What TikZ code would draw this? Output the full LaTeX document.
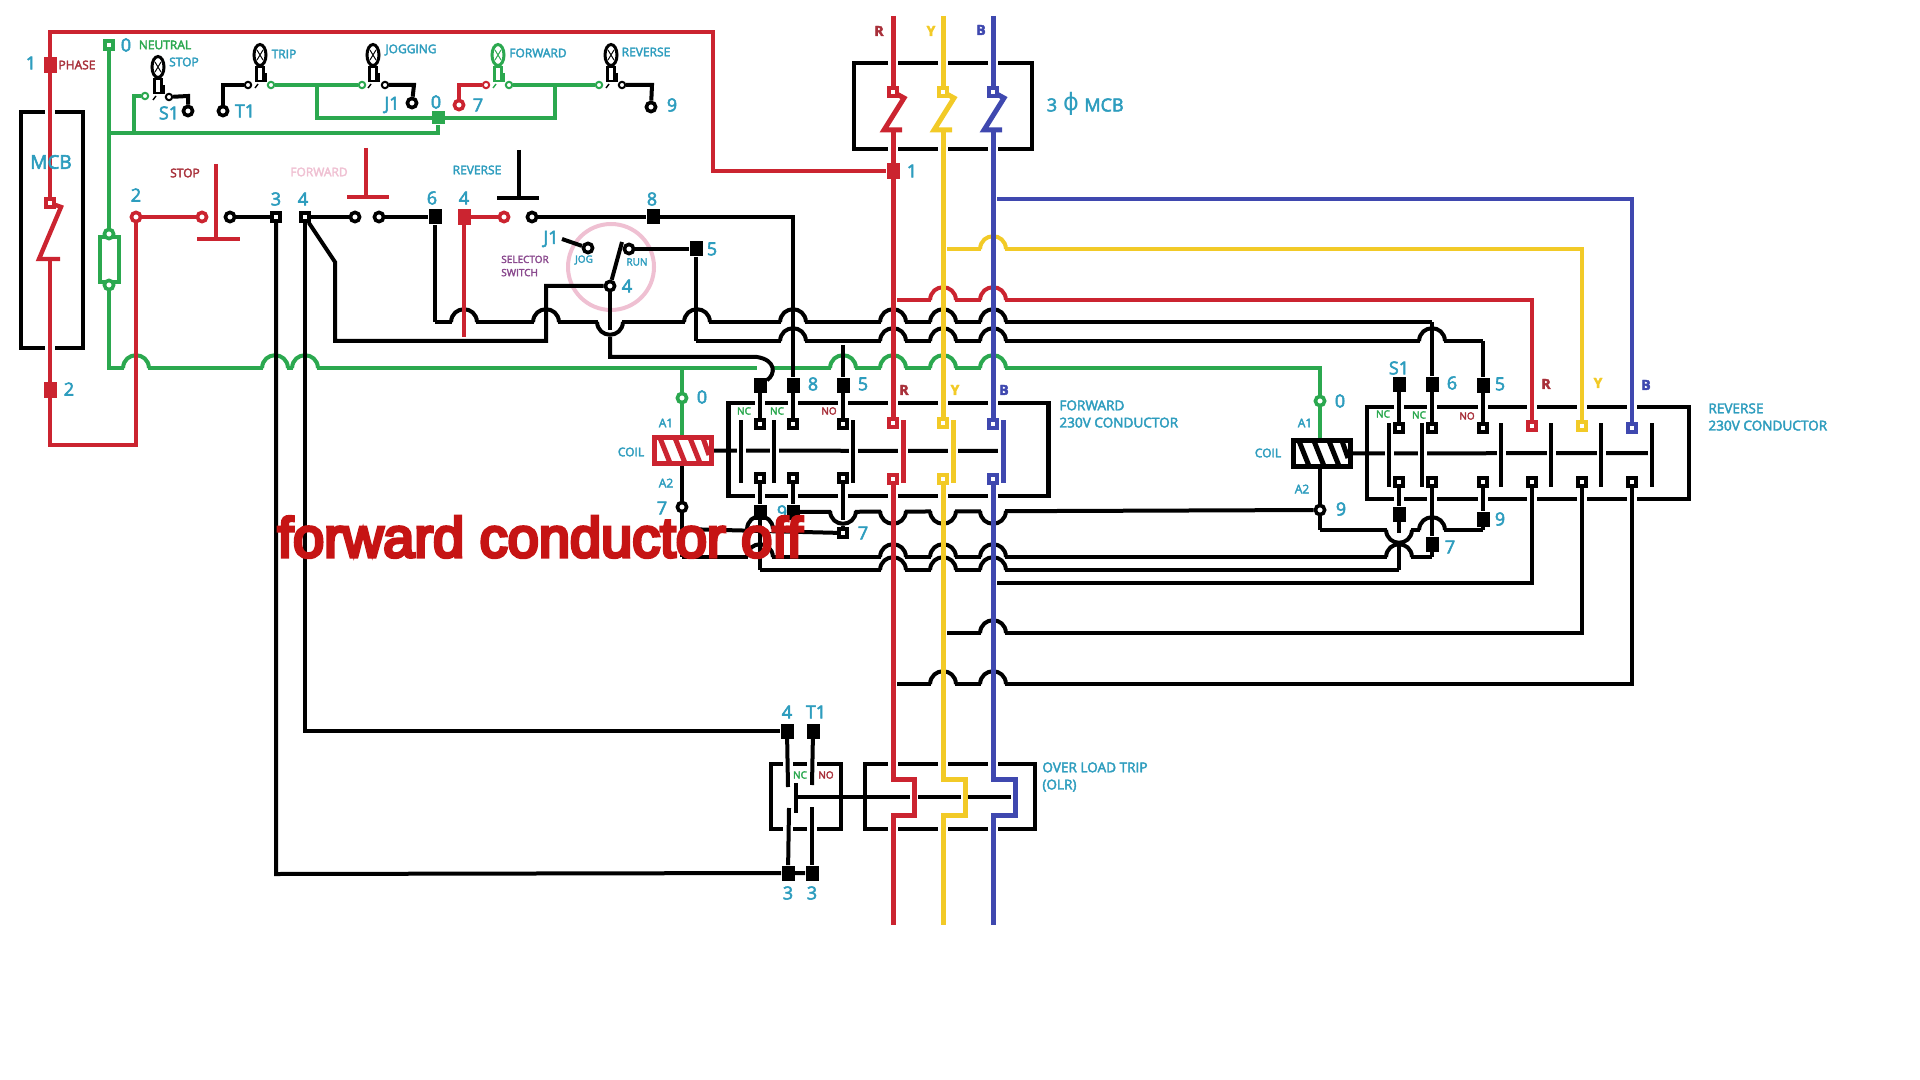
\documentclass[tikz,border=0pt]{standalone}
\usepackage{fontspec}
\setmainfont{Open Sans}[FakeBold=3]
\newfontface\noticefont{Liberation Sans}[FakeBold=6]
\newfontface\phifont{DejaVu Sans}
\usetikzlibrary{backgrounds,shapes.geometric}

\definecolor{wred}{HTML}{CB2430}
\definecolor{wgreen}{HTML}{2BA84F}
\definecolor{wyellow}{HTML}{F2CA27}
\definecolor{wblue}{HTML}{3F48AF}
\definecolor{lteal}{HTML}{2E9DBE}
\definecolor{ldred}{HTML}{A8303A}
\definecolor{lpink}{HTML}{EFC0D2}
\definecolor{lpurple}{HTML}{8A4A8E}
\definecolor{lnotice}{HTML}{C61414}

% one up or down hop of a wire over another one
\newcommand{\hopup}[3]{
  \fill[white] (#2-12,#3-3) rectangle (#2+12,#3+3);
  \draw[wire,#1] (#2-13,#3) .. controls (#2-12,#3-17) and (#2+12,#3-17) .. (#2+13,#3);
}
\newcommand{\hopdown}[3]{
  \fill[white] (#2-12,#3-3) rectangle (#2+12,#3+3);
  \draw[wire,#1] (#2-13,#3) .. controls (#2-12,#3+17) and (#2+12,#3+17) .. (#2+13,#3);
}
% white gap where a wire runs through a box outline
\newcommand{\boxgap}[2]{
  \fill[white] (#1-5,#2-4) rectangle (#1+5,#2+4);
}
% indicator lamp of the control panel
\newcommand{\paneltlamp}[4]{
  \node[bulb,draw=#4] (#1b) at (#2,#3) {};
  \node[stem,draw=#4] (#1s) at (#2,#3+19) {};
  \draw[line width=.5pt,#4] (#2-3,#3-5) -- (#2+3,#3+5) (#2+3,#3-5) -- (#2-3,#3+5);
  \draw[line width=.7pt,#4] (#2+6,#3+18) -- (#2+6,#3+27);
  \draw[line width=.7pt,#4] (#2-2,#3+29) -- (#2-5,#3+33);
}
% breaker pole of the 3 phase MCB
\newcommand{\breakerpole}[2]{
  \draw[bus,#1] (#2,92) -- (#2+11,98) -- (#2-9,130) -- (#2+9,130);
}

\begin{document}
\begin{tikzpicture}[x=0.5pt,y=-0.5pt,
    wire/.style={line width=2pt},
    redwire/.style={line width=2.2pt,color=wred},
    greenwire/.style={line width=2.2pt,color=wgreen},
    bus/.style={line width=2.5pt},
    boxnode/.style={rectangle,draw=black,line width=2.4pt,inner sep=0},
    ring/.style={circle,draw=black,fill=white,line width=1.8pt,minimum size=4.6pt,inner sep=0},
    smallring/.style={circle,draw=black,fill=white,line width=1pt,minimum size=3.2pt,inner sep=0},
    blacksq/.style={rectangle,fill=black,minimum width=6.5pt,minimum height=7.5pt,inner sep=0},
    redsq/.style={rectangle,fill=wred,minimum width=6.5pt,minimum height=8pt,inner sep=0},
    term/.style={rectangle,draw=black,fill=white,line width=2pt,minimum size=3.6pt,inner sep=0},
    bulb/.style={ellipse,fill=white,line width=1.5pt,minimum width=6pt,minimum height=10.5pt,inner sep=0},
    stem/.style={rectangle,fill=white,line width=1.3pt,minimum width=3.6pt,minimum height=7pt,inner sep=0},
    lbl/.style={inner sep=0,text=lteal,font=\fontsize{6}{7.2}\selectfont},
    longlbl/.style={inner sep=0,text=lteal,anchor=west,align=left,font=\fontsize{6.8}{8.6}\selectfont},
    num/.style={inner sep=0,text=lteal,font=\fontsize{9}{10}\selectfont},
    tag/.style={inner sep=0,font=\fontsize{6}{7}\selectfont},
    small/.style={inner sep=0,font=\fontsize{5}{6}\selectfont},
    phase/.style={inner sep=0,font=\fontsize{7}{8}\selectfont\bfseries}]

  \useasboundingbox (0,0) rectangle (1920,1080);

  % panel lamps
  \paneltlamp{lstop}{158}{67}{black}
  \paneltlamp{ltrip}{260}{55}{black}
  \paneltlamp{ljog}{373}{55}{black}
  \paneltlamp{lfwd}{498}{55}{wgreen}
  \paneltlamp{lrev}{611}{55}{black}

  \node[smallring,draw=wgreen] (p1) at (145,96) {};
  \node[smallring] (p2) at (169,97) {};
  \node[ring] (pS1) at (188,111) {};
  \node[ring] (pT1) at (223,111) {};
  \node[smallring] (p3) at (248,85) {};
  \node[smallring,draw=wgreen] (p4) at (271,85) {};
  \node[smallring,draw=wgreen] (p5) at (362,85) {};
  \node[smallring] (p6) at (385,85) {};
  \node[ring] (pJ1) at (412,103) {};
  \node[ring,draw=wred] (p7) at (459,105) {};
  \node[smallring,draw=wred] (p8) at (486,85) {};
  \node[smallring,draw=wgreen] (p9) at (509,85) {};
  \node[smallring,draw=wgreen] (p10) at (599,85) {};
  \node[smallring] (p11) at (622,85) {};
  \node[ring] (p12) at (651,107) {};
  \node[rectangle,fill=wgreen,minimum size=6.5pt,inner sep=0] (p0) at (438,118) {};

  % phase, neutral
  \node[redsq] (ph1) at (50,65) {};
  \node[redsq] (ph2) at (50,390) {};
  \node[term,draw=wred] (mcbin) at (50,203) {};
  \node[term,draw=wgreen] (ne0) at (109,45) {};
  \node[ring,draw=wgreen] (fu1) at (109,234) {};
  \node[ring,draw=wgreen] (fu2) at (109,285) {};

  % push button row
  \node[ring,draw=wred] (st2) at (136,217) {};
  \node[ring,draw=wred] (st3) at (202,217) {};
  \node[ring] (st4) at (230,217) {};
  \node[term] (t3) at (276,217) {};
  \node[term] (t4) at (305,217) {};
  \node[ring] (fw1) at (355,217) {};
  \node[ring] (fw2) at (379,217) {};
  \node[blacksq] (s6) at (435,217) {};
  \node[redsq] (s4) at (464,217) {};
  \node[ring,draw=wred] (rv1) at (504,217) {};
  \node[ring] (rv2) at (532,217) {};
  \node[blacksq] (s8) at (653,217) {};
  \node[blacksq] (s5) at (696,249) {};
  \node[ring] (jog) at (588,248) {};
  \node[ring] (run) at (629,249) {};
  \node[ring] (sel4) at (610,286) {};

  % forward contactor
  \node[blacksq] (kS) at (760,385) {};
  \node[blacksq] (k8) at (793,385) {};
  \node[blacksq] (k5) at (843,385) {};
  \node[term] (ka1) at (760,424) {};
  \node[term] (ka2) at (793,424) {};
  \node[term] (ka3) at (843,424) {};
  \node[term] (kb1) at (760,478) {};
  \node[term] (kb2) at (793,478) {};
  \node[term] (kb3) at (843,478) {};
  \node[blacksq] (kc1) at (760,512) {};
  \node[blacksq] (kc2) at (793,512) {};
  \node[term] (kc3) at (843,533) {};
  \node[term,draw=wred] (kaR) at (893,423) {};
  \node[term,draw=wyellow] (kaY) at (943,423) {};
  \node[term,draw=wblue] (kaB) at (993,424) {};
  \node[term,draw=wred] (kbR) at (893,479) {};
  \node[term,draw=wyellow] (kbY) at (943,479) {};
  \node[term,draw=wblue] (kbB) at (993,479) {};
  \node[ring,draw=wgreen] (cf0) at (682,398) {};
  \node[ring] (cf7) at (682,507) {};

  % reverse contactor
  \node[blacksq] (rS) at (1399,384) {};
  \node[blacksq] (r6) at (1432,384) {};
  \node[blacksq] (r5) at (1483,385) {};
  \node[term] (ra1) at (1399,428) {};
  \node[term] (ra2) at (1432,428) {};
  \node[term] (ra3) at (1483,428) {};
  \node[term] (rb1) at (1399,482) {};
  \node[term] (rb2) at (1432,482) {};
  \node[term] (rb3) at (1483,482) {};
  \node[blacksq] (rc1) at (1399,514) {};
  \node[blacksq] (rc3) at (1483,519) {};
  \node[blacksq] (rc2) at (1432,544) {};
  \node[term,draw=wred] (raR) at (1532,426) {};
  \node[term,draw=wyellow] (raY) at (1582,426) {};
  \node[term,draw=wblue] (raB) at (1632,428) {};
  \node[term] (rbR) at (1532,482) {};
  \node[term] (rbY) at (1582,482) {};
  \node[term] (rbB) at (1632,482) {};
  \node[ring,draw=wgreen] (cr0) at (1320,401) {};
  \node[ring] (cr9) at (1320,510) {};

  % overload relay
  \node[blacksq] (ol4) at (787,731) {};
  \node[blacksq] (olT) at (813,731) {};
  \node[blacksq] (ol3) at (788,873) {};
  \node[blacksq] (ol3b) at (812,873) {};

  % main breaker terminals, bus
  \node[redsq] (r1) at (893,171) {};
  \node[term,draw=wred] (brR) at (893,92) {};
  \node[term,draw=wyellow] (brY) at (943,92) {};
  \node[term,draw=wblue] (brB) at (993,92) {};

  \begin{pgfonlayer}{background}
    \node[boxnode,minimum width=31pt,minimum height=118pt] (mcb) at (52,230) {};
    \node[boxnode,minimum width=89pt,minimum height=43pt] (mcb3) at (943,106) {};
    \node[boxnode,minimum width=160pt,minimum height=46.5pt] (fbox) at (888.5,449.5) {};
    \node[boxnode,minimum width=161pt,minimum height=46pt] (rbox) at (1528,453) {};
    \node[boxnode,minimum width=35pt,minimum height=32.5pt] (olbox) at (806,796.5) {};
    \node[boxnode,minimum width=85pt,minimum height=32.5pt] (olbus) at (950,796.5) {};

    % gaps in the outlines
    \foreach \hx in {893,943,993} {
      \boxgap{\hx}{63}
      \boxgap{\hx}{149}
      \boxgap{\hx}{764}
      \boxgap{\hx}{829}
    }
    \foreach \hx in {760,793,843,893,943,993} {
      \boxgap{\hx}{403}
      \boxgap{\hx}{496}
    }
    \foreach \hx in {1399,1432,1483,1532,1582,1632} {
      \boxgap{\hx}{407}
      \boxgap{\hx}{499}
    }
    \foreach \hx in {788,812} {
      \boxgap{\hx}{764}
      \boxgap{\hx}{829}
    }
    \boxgap{50}{112}
    \boxgap{50}{348}

    % pink ring of the selector
    \node[circle,draw=lpink,line width=2pt,minimum size=43pt,inner sep=0] (selring) at (611,267) {};

    % panel wires
    \coordinate (g1) at (109,133);
    \coordinate (g2) at (134,133);
    \coordinate (g3) at (134,96);
    \coordinate (g4) at (438,133);
    \coordinate (g5) at (317,85);
    \coordinate (g6) at (317,118);
    \coordinate (g7) at (555,118);
    \coordinate (g8) at (555,85);
    \draw[greenwire] (g1) -- (g4) -- (p0);
    \draw[greenwire] (g2) -- (g3) -- (p1);
    \draw[greenwire] (p4) -- (p5);
    \draw[greenwire] (p9) -- (p10);
    \draw[greenwire] (g5) -- (g6) -- (g7) -- (g8);
    \draw[wire] (p2) -- (188,96) -- (pS1);
    \draw[wire] (pT1) -- (223,85) -- (p3);
    \draw[wire] (p6) -- (414,85) -- (pJ1);
    \draw[wire] (p11) -- (652,85) -- (p12);
    \draw[wire,wred] (p7) -- (459,85) -- (p8);

    % green main
    \coordinate (n1) at (109,368);
    \coordinate (n2) at (1320,368);
    \draw[greenwire] (ne0) -- (fu1);
    \draw[greenwire] (fu2) -- (n1) -- (n2) -- (cr0);
    \draw[line width=2pt,wgreen,fill=white] (100,237) rectangle (119,282);
    \foreach \hx in {136,275,305,843,893,943,993} \hopup{wgreen}{\hx}{368};
    \fill[white] (757,364) rectangle (772,372);

    % control wires, horizontal ones first
    \coordinate (a1) at (435,322);
    \coordinate (a2) at (1432,322);
    \draw[wire] (a1) -- (a2);
    \foreach \hx in {464,546,697,793,893,943,993} \hopup{black}{\hx}{322};
    \hopdown{black}{610}{322}
    \coordinate (b1) at (696,341);
    \coordinate (b2) at (1483,341);
    \draw[wire] (b1) -- (b2);
    \foreach \hx in {793,893,943,993,1432} \hopup{black}{\hx}{341};

    \draw[wire] (kc2) -- (cr9);
    \foreach \hx in {843,893,943,993} \hopdown{black}{\hx}{511};
    \coordinate (d1) at (682,557);
    \coordinate (d2) at (1432,557);
    \draw[wire] (d1) -- (d2);
    \foreach \hx in {760,893,943,993,1399} \hopup{black}{\hx}{557};
    \coordinate (e1) at (760,570);
    \coordinate (e2) at (1399,570);
    \draw[wire] (e1) -- (e2);
    \foreach \hx in {893,943,993} \hopup{black}{\hx}{570};
    \coordinate (f1) at (682,529);
    \draw[wire] (f1) -- (kc3);
    \hopup{black}{760}{529}
    \coordinate (h1) at (1320,530);
    \coordinate (h2) at (1483,530);
    \draw[wire] (h1) -- (h2);
    \hopdown{black}{1399}{530}
    \hopup{black}{1432}{530}

    % lower returns to the reverse contactor
    \coordinate (m1) at (997,583);
    \coordinate (m2) at (1532,583);
    \draw[wire] (m1) -- (m2) -- (rbR);
    \coordinate (m3) at (947,633);
    \coordinate (m4) at (1582,633);
    \draw[wire] (m3) -- (m4) -- (rbY);
    \hopup{black}{993}{633}
    \coordinate (m5) at (897,684);
    \coordinate (m6) at (1632,684);
    \draw[wire] (m5) -- (m6) -- (rbB);
    \foreach \hx in {943,993} \hopup{black}{\hx}{684};

    % taps to the reverse contactor
    \coordinate (q1) at (897,300);
    \coordinate (q2) at (1532,300);
    \draw[wred,line width=2.2pt] (q1) -- (q2) -- (raR);
    \foreach \hx in {943,993} \hopup{wred}{\hx}{300};
    \coordinate (q3) at (947,249);
    \coordinate (q4) at (1582,249);
    \draw[wyellow,line width=2.2pt] (q3) -- (q4) -- (raY);
    \hopup{wyellow}{993}{249}
    \coordinate (q5) at (997,199);
    \coordinate (q6) at (1632,199);
    \draw[wblue,line width=2.2pt] (q5) -- (q6) -- (raB);

    % phase wire
    \coordinate (u1) at (50,32);
    \coordinate (u2) at (713,32);
    \coordinate (u3) at (713,171);
    \coordinate (u4) at (50,445);
    \coordinate (u5) at (136,445);
    \draw[redwire] (ph1) -- (u1) -- (u2) -- (u3) -- (r1);
    \draw[redwire] (ph1) -- (mcbin);
    \draw[redwire] (mcbin) -- (61,207) -- (39,259) -- (60,259);
    \draw[redwire] (50,259) -- (ph2) -- (u4) -- (u5) -- (st2);

    % push button row
    \draw[redwire] (st2) -- (st3);
    \draw[wire] (st4) -- (t3);
    \draw[wire] (t4) -- (fw1);
    \draw[wire] (fw2) -- (s6);
    \draw[redwire] (s4) -- (rv1);
    \coordinate (v8) at (793,217);
    \draw[wire] (rv2) -- (s8) -- (v8) -- (k8) -- (ka2);
    \draw[redwire] (s4) -- (464,337);
    \draw[wire] (s6) -- (a1);

    % stop, forward and reverse buttons
    \draw[redwire] (216,164) -- (216,239);
    \draw[redwire] (197,239) -- (240,239);
    \draw[redwire] (366,148) -- (366,197);
    \draw[redwire] (347,197) -- (389,197);
    \draw[wire] (519,150) -- (519,198);
    \draw[wire,line width=2.2pt] (497,198) -- (539,198);

    % verticals to the contactors and the overload relay
    \coordinate (w3) at (276,874);
    \draw[wire] (t3) -- (w3) -- (ol3) -- (ol3b);
    \coordinate (w4) at (305,731);
    \draw[wire] (t4) -- (w4) -- (ol4);
    \coordinate (w5) at (335,262);
    \coordinate (w6) at (335,341);
    \coordinate (w7) at (546,341);
    \coordinate (w8) at (546,286);
    \draw[wire] (t4) -- (w5) -- (w6) -- (w7) -- (w8) -- (sel4);
    \coordinate (x1) at (610,357);
    \coordinate (x2) at (757,357);
    \draw[wire] (sel4) -- (610,330);
    \draw[wire] (610,337) -- (x1) -- (x2) .. controls (776,360) and (776,374) .. (kS);
    \draw[wire] (kS) -- (ka1);
    \draw[wire] (sel4) -- (622,242);
    \draw[wire] (562,239) -- (jog);
    \draw[wire] (run) -- (s5) -- (b1);
    \coordinate (y1) at (843,345);
    \draw[wire] (y1) -- (k5) -- (ka3);
    \draw[wire] (a2) -- (r6) -- (ra2);
    \draw[wire] (b2) -- (r5) -- (ra3);
    \draw[wire] (rS) -- (ra1);
    \draw[wire] (kb1) -- (kc1) -- (e1);
    \draw[wire] (kb2) -- (kc2);
    \draw[wire] (kb3) -- (843,520);
    \draw[wire] (843,526) -- (kc3);
    \draw[wire] (cf7) -- (d1);
    \draw[wire] (rb1) -- (rc1) -- (1399,533);
    \draw[wire] (1399,541) -- (e2);
    \draw[wire] (rb2) -- (rc2) -- (d2);
    \draw[wire] (rb3) -- (rc3) -- (h2);
    \draw[wire] (cr9) -- (h1);

    % coils
    \node[rectangle,draw=wred,fill=white,line width=2.5pt,minimum width=28.5pt,minimum height=13pt,inner sep=0] (coilf) at (683,450.5) {};
    \foreach \hx in {660,675,690} \draw[wred,line width=2.5pt] (\hx,438) -- (\hx+10,463);
    \draw[wred,line width=2.5pt] (703,438) -- (709,455);
    \node[rectangle,draw=black,fill=white,line width=2.5pt,minimum width=28.5pt,minimum height=13pt,inner sep=0] (coilr) at (1322,453.5) {};
    \foreach \hx in {1299,1314,1329} \draw[line width=2.5pt] (\hx,441) -- (\hx+10,466);
    \draw[line width=2.5pt] (1342,441) -- (1348,458);
    \draw[greenwire] (682,368) -- (cf0) -- (cf0 |- coilf.north);
    \draw[wire] (cf7 |- coilf.south) -- (cf7);
    \draw[greenwire] (cr0) -- (cr0 |- coilr.north);
    \draw[wire] (cr9 |- coilr.south) -- (cr9);

    % contact bars and their link
    \draw[wire] (coilf) -- (1000,451);
    \foreach \hx in {741,774,853} \draw[wire,preaction={draw=white,line width=4.5pt}] (\hx,420) -- (\hx,483);
    \draw[bus,wred,preaction={draw=white,line width=5pt}] (903,420) -- (903,483);
    \draw[bus,wyellow,preaction={draw=white,line width=5pt}] (953,420) -- (953,483);
    \draw[bus,wblue,preaction={draw=white,line width=5pt}] (1003,420) -- (1003,483);
    \draw[wire] (coilr) -- (1648,453);
    \foreach \hx in {1389,1422,1501,1551,1601,1652} \draw[wire,preaction={draw=white,line width=4.5pt}] (\hx,423) -- (\hx,487);

    % overload relay inside, then the bus over it
    \draw[wire] (ol4) -- (788,787);
    \draw[wire] (789,808) -- (ol3);
    \draw[wire] (olT) -- (812,785);
    \draw[wire] (812,807) -- (ol3b);
    \draw[wire] (796,783) -- (796,813);
    \draw[wire] (796,797) -- (910,797);
    \draw[wire] (918,797) -- (961,797);
    \draw[wire] (968,797) -- (1011,797);

    % three phase bus
    \foreach \hc/\hx/\hb/\hj/\hlower in {wred/893/brR/914/kaR,wyellow/943/brY/965/kaY,wblue/993/brB/1015/kaB} {
      \draw[bus,\hc] (\hx,16) -- (\hb);
      \breakerpole{\hc}{\hx}
      \draw[bus,\hc] (\hx,130) -- (\hlower);
      \draw[bus,\hc] (\hx,479) -- (\hx,779) -- (\hj,779) -- (\hj,815) -- (\hx,815) -- (\hx,925);
    }
  \end{pgfonlayer}

  % labels
  \node[num] (l1) at (31,63) {1};
  \node[tag,text=ldred] (lphase) at (77,65) {PHASE};
  \node[num] (l2) at (69,389) {2};
  \node[num,font=\fontsize{9.5}{11}\selectfont] (lmcb) at (51,162) {MCB};
  \node[num] (l0) at (126,45) {0};
  \node[tag,text=wgreen] (lneu) at (165,45) {NEUTRAL};
  \node[lbl] (lstoplamp) at (184,62) {STOP};
  \node[num] (lS1) at (169,113) {S1};
  \node[lbl] (ltriplamp) at (284,54) {TRIP};
  \node[num] (lT1) at (245,111) {T1};
  \node[lbl] (ljoglamp) at (411,50) {JOGGING};
  \node[num] (lJ1) at (392,105) {J1};
  \node[num] (l0b) at (436,102) {0};
  \node[num] (l7) at (478,105) {7};
  \node[lbl] (lfwdlamp) at (538,53) {FORWARD};
  \node[lbl] (lrevlamp) at (646,52) {REVERSE};
  \node[num] (l9) at (672,105) {9};

  \node[num] (l2b) at (136,195) {2};
  \node[tag,text=ldred] (lstop) at (185,173) {STOP};
  \node[num] (l3a) at (276,199) {3};
  \node[num] (l4a) at (303,199) {4};
  \node[tag,text=lpink] (lfwd) at (319,172) {FORWARD};
  \node[num] (l6) at (432,198) {6};
  \node[num] (l4b) at (464,198) {4};
  \node[lbl] (lrev) at (477,170) {REVERSE};
  \node[num] (l8a) at (652,199) {8};
  \node[num] (lJ1b) at (551,239) {J1};
  \node[num] (l5a) at (712,249) {5};
  \node[num] (l4c) at (627,286) {4};
  \node[small,text=lteal] (ljog) at (584,260) {JOG};
  \node[small,text=lteal] (lrun) at (637,262) {RUN};
  \node[small,text=lpurple,align=left,font=\fontsize{5}{6.6}\selectfont] (lsel) at (525,266) {SELECTOR\\SWITCH};

  \node[phase,text=ldred] (lR) at (879,31) {R};
  \node[phase,text=wyellow] (lY) at (931,31) {Y};
  \node[phase,text=wblue] (lB) at (981,30) {B};
  \node[num] (l3p) at (1052,105) {3};
  \node[num,font=\phifont\fontsize{12}{13}\selectfont] (lphi) at (1071,104) {ϕ};
  \node[num] (lmcb3) at (1104,105) {MCB};
  \node[num] (l1r) at (912,171) {1};

  \node[num] (l0f) at (702,397) {0};
  \node[lbl] (lA1f) at (666,423) {A1};
  \node[lbl] (lA2f) at (666,483) {A2};
  \node[lbl] (lcoilf) at (631,452) {COIL};
  \node[num] (l7f) at (662,508) {7};
  \node[num] (l8f) at (813,384) {8};
  \node[num] (l5f) at (863,384) {5};
  \node[num] (l9f) at (782,512) {9};
  \node[num] (l7g) at (863,533) {7};
  \node[small,text=wgreen] (nc1) at (744,411) {NC};
  \node[small,text=wgreen] (nc2) at (777,411) {NC};
  \node[small,text=ldred] (no1) at (829,411) {NO};
  \node[phase,text=ldred] (lRf) at (904,390) {R};
  \node[phase,text=wyellow] (lYf) at (955,390) {Y};
  \node[phase,text=wblue] (lBf) at (1004,390) {B};
  \node[longlbl] (lfc) at (1059,414) {FORWARD\\230V CONDUCTOR};

  \node[num] (l0r) at (1340,401) {0};
  \node[lbl] (lA1r) at (1305,423) {A1};
  \node[lbl] (lA2r) at (1302,489) {A2};
  \node[lbl] (lcoilr) at (1268,453) {COIL};
  \node[num] (l9r) at (1341,509) {9};
  \node[num] (lS1r) at (1399,368) {S1};
  \node[num] (l6r) at (1452,383) {6};
  \node[num] (l5r) at (1500,384) {5};
  \node[num] (l9s) at (1500,519) {9};
  \node[num] (l7r) at (1450,547) {7};
  \node[small,text=wgreen] (nc3) at (1383,414) {NC};
  \node[small,text=wgreen] (nc4) at (1419,415) {NC};
  \node[small,text=ldred] (no2) at (1467,416) {NO};
  \node[phase,text=ldred] (lRr) at (1546,384) {R};
  \node[phase,text=wyellow] (lYr) at (1598,383) {Y};
  \node[phase,text=wblue] (lBr) at (1646,385) {B};
  \node[longlbl] (lrc) at (1708,417) {REVERSE\\230V CONDUCTOR};

  \node[num] (l4o) at (787,712) {4};
  \node[num] (lT1o) at (816,712) {T1};
  \node[num] (l3o) at (788,893) {3};
  \node[num] (l3p2) at (812,893) {3};
  \node[small,text=wgreen] (nc5) at (800,775) {NC};
  \node[small,text=ldred] (no3) at (826,775) {NO};
  \node[longlbl] (lolr) at (1042,777) {OVER LOAD TRIP\\(OLR)};

  \node[anchor=base,inner sep=0,text=lnotice,font=\noticefont\fontsize{28}{30}\selectfont] (notice) at (540,557) {forward conductor off};
\end{tikzpicture}
\end{document}
